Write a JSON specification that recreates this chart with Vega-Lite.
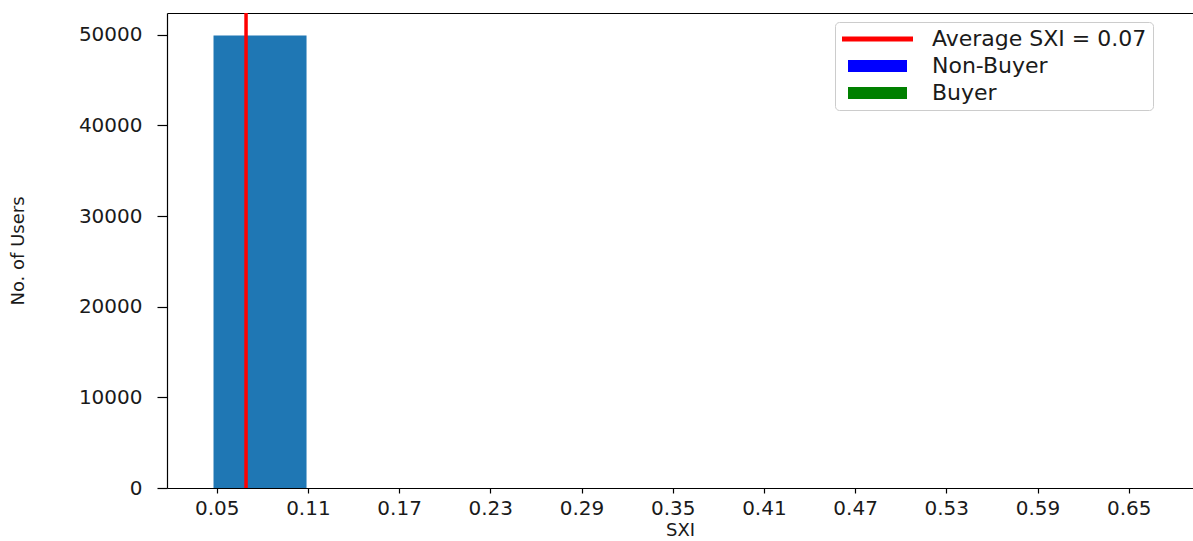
{
  "$schema": "https://vega.github.io/schema/vega-lite/v6.json",
  "width": 1026,
  "height": 475,
  "padding": {"left": 167, "top": 13, "right": 0, "bottom": 53},
  "autosize": {"type": "none"},
  "background": "white",
  "config": {
    "view": {"stroke": null},
    "font": "DejaVu Sans",
    "axis": {
      "grid": false,
      "domainColor": "#000000",
      "domainWidth": 1.2,
      "tickColor": "#000000",
      "tickWidth": 1.2,
      "labelColor": "#1a1a1a",
      "labelFont": "DejaVu Sans",
      "labelFontSize": 20,
      "titleFont": "DejaVu Sans",
      "titleFontWeight": "normal",
      "titleColor": "#1a1a1a"
    }
  },
  "datasets": {
    "bins": [
      {"bin_start": 0.0479, "bin_end": 0.1091, "users": 49900}
    ],
    "avg": [
      {"label": "Average SXI = 0.07", "sxi": 0.0693}
    ]
  },
  "resolve": {"axis": {"x": "independent"}},
  "layer": [
    {
      "data": {"name": "bins"},
      "mark": {"type": "rect", "color": "#1f77b4"},
      "encoding": {
        "x": {
          "field": "bin_start",
          "type": "quantitative",
          "scale": {"domain": [0.0173, 0.6923], "nice": false, "zero": false},
          "axis": {
            "orient": "bottom",
            "values": [0.05, 0.11, 0.17, 0.23, 0.29, 0.35, 0.41, 0.47, 0.53, 0.59, 0.65],
            "format": ".2f",
            "tickSize": 5,
            "labelPadding": 5,
            "title": "SXI",
            "titleFontSize": 18,
            "titlePadding": 3,
            "labelFlush": false,
            "labelOverlap": false
          }
        },
        "x2": {"field": "bin_end"},
        "y": {
          "field": "users",
          "type": "quantitative",
          "scale": {"domain": [0, 52395], "nice": false},
          "axis": {
            "values": [0, 10000, 20000, 30000, 40000, 50000],
            "format": "d",
            "tickSize": 10,
            "labelPadding": 15,
            "title": "No. of Users",
            "titleFontSize": 18,
            "titlePadding": 51,
            "labelFlush": false,
            "labelOverlap": false
          }
        },
        "y2": {"datum": 0}
      }
    },
    {
      "data": {"name": "avg"},
      "mark": {"type": "rule", "strokeWidth": 3.5},
      "encoding": {
        "x": {
          "field": "sxi",
          "type": "quantitative",
          "axis": {"orient": "top", "labels": false, "ticks": false, "title": null, "domain": true}
        },
        "color": {
          "field": "label",
          "type": "nominal",
          "scale": {
            "domain": ["Average SXI = 0.07", "Non-Buyer", "Buyer"],
            "range": ["#ff0000", "#0000ff", "#008000"]
          },
          "legend": {
            "title": null,
            "orient": "none",
            "legendX": 668,
            "legendY": 9,
            "padding": 6,
            "strokeColor": "#cccccc",
            "fillColor": "rgba(255,255,255,0.8)",
            "cornerRadius": 4,
            "labelFont": "DejaVu Sans",
            "labelFontSize": 22,
            "labelLimit": 0,
            "labelColor": "#1a1a1a",
            "labelOffset": 69,
            "rowPadding": 5,
            "symbolSize": 400,
            "encode": {
              "symbols": {
                "update": {
                  "shape": {"signal": "datum.value === 'Average SXI = 0.07' ? 'M-1,-0.25H6.1V0.25H-1Z' : 'M-0.4,-0.6H5.5V0.6H-0.4Z'"},
                  "fill": {"signal": "scale('color', datum.value)"},
                  "stroke": {"value": "transparent"},
                  "strokeWidth": {"value": 0},
                  "size": {"value": 400},
                  "opacity": {"value": 1},
                  "fillOpacity": {"value": 1}
                }
              }
            }
          }
        }
      }
    }
  ]
}
